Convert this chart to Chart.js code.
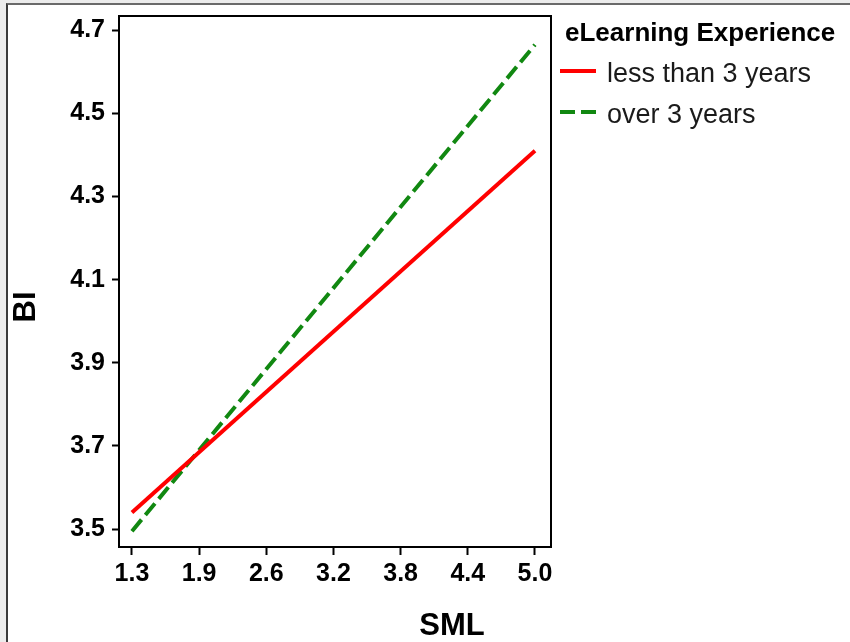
<!DOCTYPE html>
<html>
<head>
<meta charset="utf-8">
<script src="https://cdn.jsdelivr.net/npm/chart.js@4/dist/chart.umd.min.js"></script>
<style>
  html, body { margin: 0; padding: 0; background: #ececec; }
  #frame {
    position: absolute; left: 6px; top: 3px; width: 844px; height: 639px;
    border-left: 2px solid #3a3a3a; border-top: 2px solid #6a6a6a;
    background: #fff;
  }
  #chart { display: block; }
</style>
</head>
<body>
<div id="frame"><canvas id="chart" width="842" height="637"></canvas></div>
<script>
"use strict";

const FONT = "'Liberation Sans', Arial, sans-serif";

// data
const smlPoints = [1.3, 5.0];
const lessThan3 = [3.54, 4.41];
const over3 = [3.495, 4.665];
const xTickLabels = ["1.3", "1.9", "2.6", "3.2", "3.8", "4.4", "5.0"];
const yTickValues = [3.5, 3.7, 3.9, 4.1, 4.3, 4.5, 4.7];
const legendTitle = "eLearning Experience";

function toPoints(xs, ys) {
  return xs.map((x, i) => ({ x: x, y: ys[i] }));
}

// box, axis titles and legend drawn on top of the chart
const decorations = {
  id: "decorations",
  afterDraw(chart) {
    const ctx = chart.ctx;
    const a = chart.chartArea;
    ctx.save();
    ctx.strokeStyle = "#000";
    ctx.lineWidth = 2;
    ctx.strokeRect(a.left, a.top, a.right - a.left, a.bottom - a.top);

    ctx.fillStyle = "#000";
    ctx.textAlign = "center";
    ctx.textBaseline = "middle";
    ctx.font = "bold 31px " + FONT;
    ctx.fillText("SML", 444, 621);
    ctx.save();
    ctx.translate(18, 302);
    ctx.rotate(-Math.PI / 2);
    ctx.fillText("BI", 0, 0);
    ctx.restore();

    // legend
    ctx.textAlign = "left";
    ctx.font = "bold 26px " + FONT;
    ctx.fillText(legendTitle, 557, 29);
    ctx.font = "27px " + FONT;
    chart.data.datasets.forEach((ds, i) => {
      const y = 66 + i * 41;
      ctx.strokeStyle = ds.borderColor;
      ctx.lineWidth = 4;
      ctx.setLineDash(ds.borderDash || []);
      ctx.beginPath();
      ctx.moveTo(552, y);
      ctx.lineTo(588, y);
      ctx.stroke();
      ctx.setLineDash([]);
      ctx.fillStyle = "#1a1a1a";
      ctx.fillText(ds.label, 599, y + 4);
    });
    ctx.restore();
  }
};

const ctx = document.getElementById("chart").getContext("2d");
const chart = new Chart(ctx, {
  type: "line",
  data: {
    datasets: [
      {
        label: "less than 3 years",
        data: toPoints(smlPoints, lessThan3),
        borderColor: "#ff0000",
        borderWidth: 4,
        pointRadius: 0
      },
      {
        label: "over 3 years",
        data: toPoints(smlPoints, over3),
        borderColor: "#118811",
        borderWidth: 4,
        borderDash: [15, 6],
        pointRadius: 0
      }
    ]
  },
  options: {
    responsive: false,
    animation: false,
    layout: { padding: { left: 0, top: 11, right: 299, bottom: 0 } },
    plugins: { legend: { display: false }, tooltip: { enabled: false } },
    scales: {
      x: {
        type: "linear",
        min: 1.181,
        max: 5.147,
        afterBuildTicks: scale => {
          scale.ticks = xTickLabels.map((t, k) => ({ value: 1.3 + k * 3.7 / 6 }));
        },
        afterFit: scale => {
          scale.height = 95;
          scale.paddingLeft = 0;
          scale.paddingRight = 0;
        },
        ticks: {
          callback: (v, i) => xTickLabels[i],
          color: "#000",
          font: { family: FONT, size: 25, weight: "bold" },
          padding: 4,
          maxRotation: 0
        },
        grid: { drawOnChartArea: false, tickLength: 8, tickWidth: 2, tickColor: "#000" },
        border: { color: "#000", width: 2 }
      },
      y: {
        min: 3.457,
        max: 4.734,
        afterBuildTicks: scale => {
          scale.ticks = yTickValues.map(v => ({ value: v }));
        },
        afterFit: scale => {
          scale.width = 111;
          scale.paddingTop = 0;
          scale.paddingBottom = 0;
        },
        ticks: {
          callback: v => v.toFixed(1),
          color: "#000",
          font: { family: FONT, size: 25, weight: "bold" },
          padding: 7
        },
        grid: { drawOnChartArea: false, tickLength: 7, tickWidth: 2, tickColor: "#000" },
        border: { color: "#000", width: 2 }
      }
    }
  },
  plugins: [decorations]
});
</script>
</body>
</html>
